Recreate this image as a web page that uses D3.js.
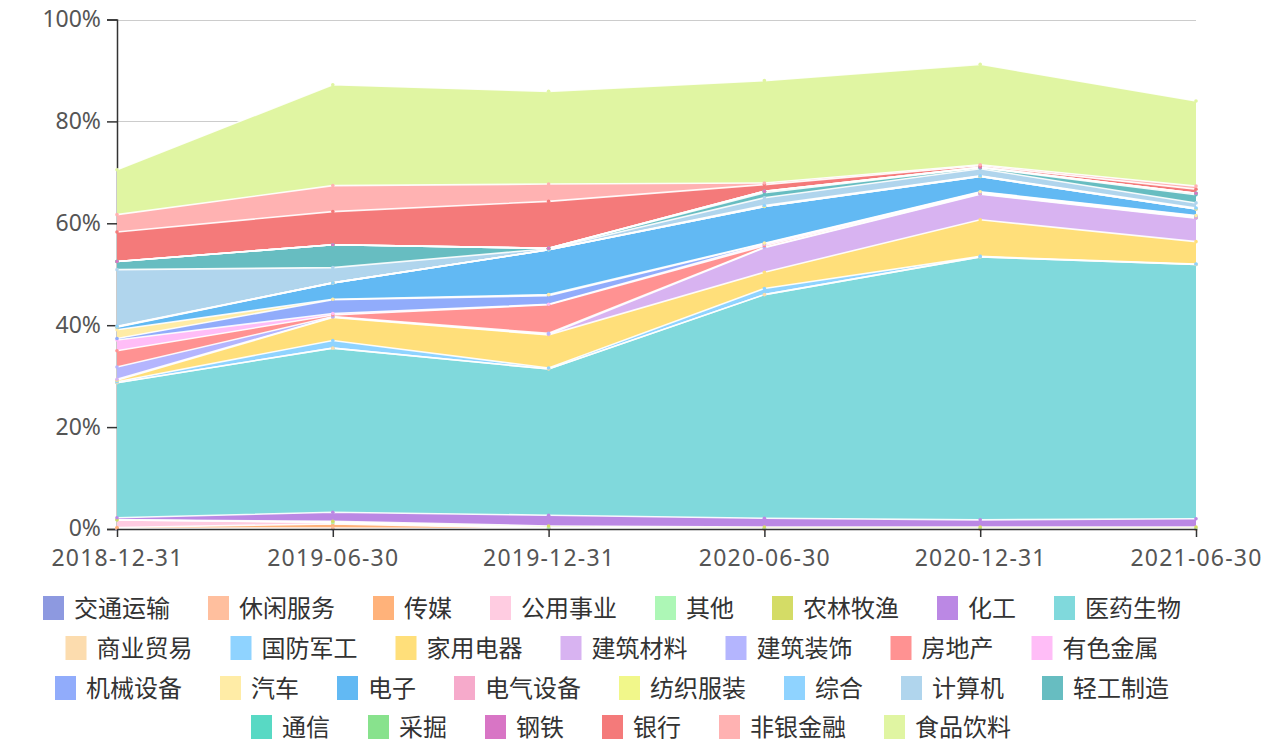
<!DOCTYPE html>
<html>
<head>
<meta charset="utf-8">
<script src="https://cdn.jsdelivr.net/npm/d3@7"></script>
<style>
  html, body { margin: 0; padding: 0; background: #fff; }
  svg { display: block; }
  text { font-family: "Noto Sans CJK SC", "Noto Sans", sans-serif; }
</style>
</head>
<body>
<svg id="chart" width="1266" height="745"></svg>
<script>
// ---------- DATA ----------
const dates = ["2018-12-31", "2019-06-30", "2019-12-31", "2020-06-30", "2020-12-31", "2021-06-30"];
const yTicks = [0, 20, 40, 60, 80, 100];

const seriesNames = ["交通运输", "休闲服务", "传媒", "公用事业", "其他", "农林牧渔", "化工", "医药生物",
  "商业贸易", "国防军工", "家用电器", "建筑材料", "建筑装饰", "房地产", "有色金属",
  "机械设备", "汽车", "电子", "电气设备", "纺织服装", "综合", "计算机", "轻工制造",
  "通信", "采掘", "钢铁", "银行", "非银金融", "食品饮料"];

// percent of portfolio, one array per industry, in the order of `dates`
const seriesValues = [
  [0.0, 0.0, 0.0, 0.0, 0.0, 0.0],   // 交通运输
  [0.1, 0.2, 0.0, 0.0, 0.0, 0.0],   // 休闲服务
  [0.2, 0.8, 0.1, 0.0, 0.0, 0.0],   // 传媒
  [1.5, 0.3, 0.2, 0.1, 0.1, 0.1],   // 公用事业
  [0.0, 0.0, 0.0, 0.0, 0.0, 0.0],   // 其他
  [0.0, 0.2, 0.3, 0.3, 0.3, 0.3],   // 农林牧渔
  [0.4, 1.8, 2.1, 1.7, 1.4, 1.6],   // 化工
  [26.5, 32.2, 28.7, 43.9, 51.6, 49.9], // 医药生物
  [0.0, 0.0, 0.0, 0.0, 0.0, 0.0],   // 商业贸易
  [0.2, 1.5, 0.2, 1.2, 0.1, 0.1],   // 国防军工
  [0.3, 4.5, 6.5, 3.2, 7.2, 4.4],   // 家用电器
  [0.2, 0.1, 0.1, 4.8, 5.0, 4.6],   // 建筑材料
  [2.4, 0.1, 0.2, 0.1, 0.1, 0.1],   // 建筑装饰
  [3.2, 0.3, 5.6, 0.3, 0.1, 0.1],   // 房地产
  [2.1, 0.3, 0.1, 0.3, 0.1, 0.1],   // 有色金属
  [0.3, 2.7, 1.7, 0.1, 0.1, 0.1],   // 机械设备
  [1.7, 0.1, 0.2, 0.1, 0.1, 0.1],   // 汽车
  [0.5, 3.2, 8.8, 7.2, 3.0, 1.3],   // 电子
  [0.1, 0.0, 0.0, 0.0, 0.0, 0.0],   // 电气设备
  [0.0, 0.0, 0.0, 0.0, 0.0, 0.0],   // 纺织服装
  [0.1, 0.0, 0.0, 0.2, 0.1, 0.2],   // 综合
  [11.1, 3.0, 0.2, 1.5, 1.4, 1.0],  // 计算机
  [1.6, 4.5, 0.1, 1.0, 0.2, 1.6],   // 轻工制造
  [0.0, 0.0, 0.0, 0.3, 0.1, 0.3],   // 通信
  [0.0, 0.0, 0.0, 0.0, 0.0, 0.0],   // 采掘
  [0.0, 0.0, 0.0, 0.0, 0.0, 0.0],   // 钢铁
  [5.8, 6.5, 9.2, 1.3, 0.3, 0.8],   // 银行
  [3.4, 5.1, 3.4, 0.3, 0.2, 0.6],   // 非银金融
  [8.8, 19.8, 18.2, 20.1, 19.7, 16.7] // 食品饮料
];

const seriesColors = ["#8d99e0", "#ffbf9e", "#ffb27a", "#ffcce1", "#adf7b6", "#d4dc66", "#bb88e4", "#80d9dc",
  "#fcdcae", "#8fd3ff", "#ffdf7a", "#d8b3f1", "#b4b5fe", "#ff9292", "#ffbdf7",
  "#91acfb", "#ffeca6", "#62b9f3", "#f6aacb", "#f1f78a", "#8fd3ff", "#b0d5ed", "#67bdc1",
  "#58d9c4", "#88e28d", "#d875c5", "#f47a7a", "#ffb2b2", "#e0f5a2"];

const legendRows = [8, 7, 8, 6]; // items per legend row

// ---------- LAYOUT ----------
const svg = d3.select("#chart");
const plotLeft = 117, plotRight = 1196, plotTop = 19.5, plotBottom = 529;

const x = d3.scalePoint().domain(dates).range([plotLeft, plotRight]);
const y = d3.scaleLinear().domain([0, 100]).range([plotBottom, plotTop]);

// build table for stack
const table = dates.map((d, i) => {
  const row = { date: d };
  seriesNames.forEach((n, s) => row[n] = seriesValues[s][i]);
  return row;
});
const stacked = d3.stack().keys(seriesNames)(table);

// gridlines
svg.append("g").selectAll("line").data(yTicks.filter(t => t > 0)).join("line")
  .attr("x1", plotLeft).attr("x2", plotRight)
  .attr("y1", d => Math.round(y(d)) + 0.5).attr("y2", d => Math.round(y(d)) + 0.5)
  .attr("stroke", "#ccc").attr("stroke-width", 1);

// y axis (drawn beneath the areas)
const yAxis = svg.append("g").attr("transform", `translate(${plotLeft},0)`)
  .call(d3.axisLeft(y).tickValues(yTicks).tickFormat(d => d + "%").tickSize(10).tickPadding(6));
yAxis.select(".domain").attr("stroke", "#333").attr("stroke-width", 1.5);
yAxis.selectAll(".tick line").attr("stroke", "#333").attr("stroke-width", 1.5);
yAxis.selectAll(".tick text").attr("fill", "#555").style("font-size", "23px")
  .attr("dy", "0.3em")
  .style("font-family", "'Noto Sans', sans-serif");

// areas
const area = d3.area().x((d, i) => x(dates[i])).y0(d => y(d[0])).y1(d => y(d[1]));
const line = d3.line().x((d, i) => x(dates[i])).y(d => y(d[1]));

const layers = svg.append("g");
stacked.forEach((s, k) => {
  layers.append("path").attr("d", area(s)).attr("fill", seriesColors[k]);
});
stacked.forEach((s, k) => {
  layers.append("path").attr("d", line(s)).attr("fill", "none")
    .attr("stroke", "#fff").attr("stroke-width", 1.6).attr("stroke-opacity", 0.9);
});
stacked.forEach((s, k) => {
  layers.append("g").selectAll("circle").data(s).join("circle")
    .attr("cx", (d, i) => x(dates[i])).attr("cy", d => y(d[1]))
    .attr("r", 1.8).attr("fill", seriesColors[k]);
});

// x axis (on top)
const xAxis = svg.append("g").attr("transform", `translate(0,${plotBottom})`)
  .call(d3.axisBottom(x).tickSize(8).tickPadding(13).tickSizeOuter(0));
xAxis.select(".domain").attr("stroke", "#333").attr("stroke-width", 1.5);
xAxis.selectAll(".tick line").attr("stroke", "#333").attr("stroke-width", 1.5);
xAxis.selectAll(".tick text").attr("fill", "#555").style("font-size", "23px")
  .style("letter-spacing", "1.2px")
  .style("font-family", "'Noto Sans', sans-serif");

// legend
const legend = svg.append("g");
const rowY = [608, 648, 688, 727];
const rowCenter = [612, 612, 612, 631];
const swW = 21, swH = 24, txtGap = 10, itemGap = 38, fontSize = 24;
let idx = 0;
legendRows.forEach((count, r) => {
  const items = seriesNames.slice(idx, idx + count).map((n, j) => ({ name: n, color: seriesColors[idx + j] }));
  idx += count;
  const g = legend.append("g");
  let cx = 0;
  items.forEach(it => {
    const ig = g.append("g").attr("transform", `translate(${cx},0)`);
    ig.append("rect").attr("x", 0).attr("y", rowY[r] - swH / 2).attr("width", swW).attr("height", swH)
      .attr("fill", it.color);
    const t = ig.append("text").attr("x", swW + txtGap).attr("y", rowY[r]).attr("dy", "0.36em")
      .attr("fill", "#333").style("font-size", fontSize + "px").text(it.name);
    const w = t.node().getComputedTextLength();
    cx += swW + txtGap + w + itemGap;
  });
  const total = cx - itemGap;
  g.attr("transform", `translate(${rowCenter[r] - total / 2},0)`);
});
</script>
</body>
</html>
